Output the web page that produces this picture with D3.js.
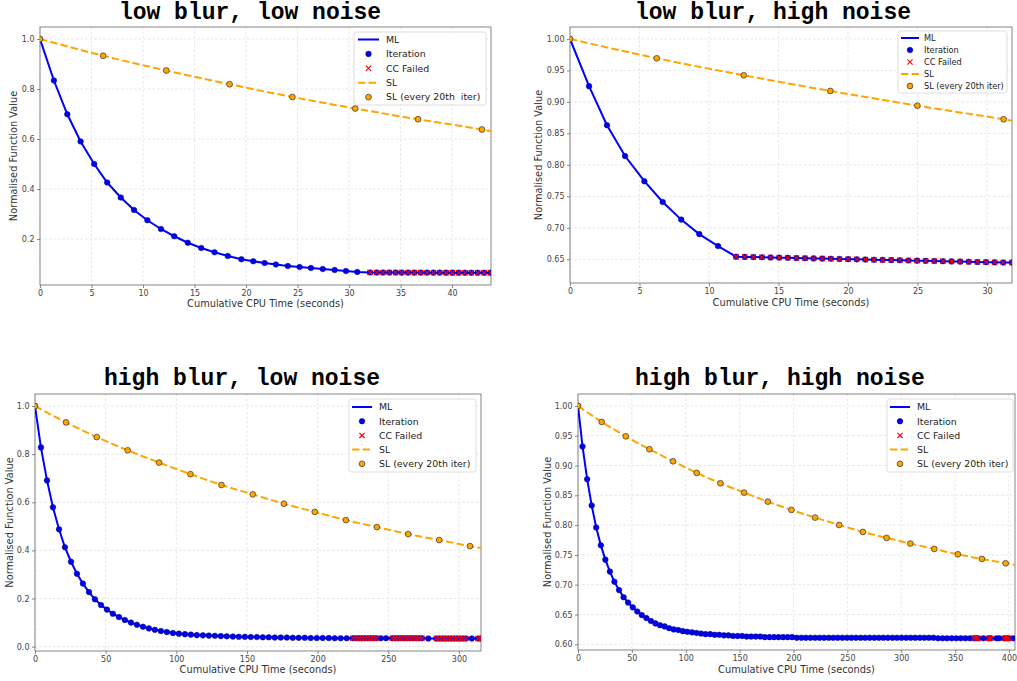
<!DOCTYPE html>
<html><head><meta charset="utf-8">
<script src="https://cdn.jsdelivr.net/npm/d3@7"></script>
<style>body{margin:0;background:#fff}svg{display:block}text{white-space:pre}</style>
</head><body>
<svg id="chart" width="1017" height="681"></svg>
<script>
// ---------- DATA ----------
const titles = ["low blur, low noise", "low blur, high noise", "high blur, low noise", "high blur, high noise"];
const legendLabels1 = ["ML", "Iteration", "CC Failed", "SL", "SL (every 20th  iter)"];
const legendLabels = ["ML", "Iteration", "CC Failed", "SL", "SL (every 20th iter)"];
const xAxisLabel = "Cumulative CPU Time (seconds)";
const yAxisLabel = "Normalised Function Value";

// Panel 1: low blur, low noise
const p1Time = [0, 1.35, 2.65, 3.94, 5.26, 6.52, 7.84, 9.13, 10.42, 11.74, 13.03, 14.35, 15.65, 16.94, 18.23, 19.55, 20.7, 21.8, 22.9, 24.06, 25.2, 26.3, 27.45, 28.6, 29.7, 30.8];
const p1Value = [1.0, 0.834, 0.699, 0.590, 0.500, 0.426, 0.366, 0.316, 0.275, 0.240, 0.211, 0.185, 0.164, 0.147, 0.132, 0.119, 0.111, 0.104, 0.098, 0.092, 0.088, 0.084, 0.080, 0.076, 0.072, 0.068];
const p1FailTime = [32.04, 32.69, 33.30, 33.91, 34.53, 35.11, 35.73, 36.34, 36.96, 37.57, 38.19, 38.80, 39.42, 40.03, 40.65, 41.26, 41.87, 42.49, 43.11, 43.72];
const p1FailValue = [0.0660, 0.0659, 0.0659, 0.0658, 0.0658, 0.0657, 0.0657, 0.0656, 0.0656, 0.0655, 0.0655, 0.0655, 0.0654, 0.0654, 0.0653, 0.0653, 0.0653, 0.0652, 0.0652, 0.0652];
const p1SLTime = [0, 6.13, 12.26, 18.4, 24.5, 30.6, 36.7, 42.9];
const p1SLValue = [1.0, 0.933, 0.874, 0.819, 0.768, 0.722, 0.679, 0.638];
const p1SLEnd = [44.5, 0.626];
const p1XTicks = [0, 5, 10, 15, 20, 25, 30, 35, 40];
const p1YTicks = [0.2, 0.4, 0.6, 0.8, 1.0];

// Panel 2: low blur, high noise
const p2Time = [0, 1.37, 2.66, 3.96, 5.35, 6.67, 8.0, 9.3, 10.65];
const p2Value = [1.0, 0.925, 0.863, 0.814, 0.774, 0.741, 0.713, 0.690, 0.671];
const p2FailTime = [11.95, 12.57, 13.19, 13.81, 14.43, 15.05, 15.67, 16.29, 16.91, 17.53, 18.15, 18.77, 19.39, 20.01, 20.63, 21.25, 21.87, 22.49, 23.11, 23.73, 24.35, 24.97, 25.59, 26.21, 26.83, 27.45, 28.07, 28.69, 29.31, 29.93, 30.55, 31.17, 31.79];
const p2FailValue = [0.6541, 0.6538, 0.6535, 0.6532, 0.6529, 0.6526, 0.6523, 0.6520, 0.6517, 0.6514, 0.6511, 0.6508, 0.6505, 0.6502, 0.6499, 0.6496, 0.6493, 0.6490, 0.6487, 0.6484, 0.6481, 0.6478, 0.6475, 0.6472, 0.6469, 0.6466, 0.6463, 0.6460, 0.6457, 0.6454, 0.6451, 0.6449, 0.6447];
const p2SLTime = [0, 6.24, 12.5, 18.73, 24.99, 31.2];
const p2SLValue = [1.0, 0.9693, 0.9423, 0.9174, 0.894, 0.8724];
const p2SLEnd = [32.5, 0.8677];
const p2XTicks = [0, 5, 10, 15, 20, 25, 30];
const p2YTicks = [0.65, 0.70, 0.75, 0.80, 0.85, 0.90, 0.95, 1.00];

// Panel 3: high blur, low noise
const p3Time = [0, 4.2, 8.5, 12.7, 17.0, 21.2, 25.5, 29.7, 33.9, 38.2,
  42.4, 46.7, 50.9, 55.1, 59.4, 63.6, 67.9, 72.1, 76.4, 80.6,
  84.8, 89.1, 93.3, 97.6, 101.8, 106.1, 110.3, 114.5, 118.8, 123.0,
  127.3, 131.5, 135.7, 140.0, 144.2, 148.5, 152.7, 157.0, 161.2, 165.4,
  169.7, 173.9, 178.2, 182.4, 186.6, 190.9, 195.1, 199.4, 203.6, 207.9,
  212.1, 216.3, 220.6, 244.7, 248.4, 278.3, 309.1];
const p3Value = [1.000, 0.828, 0.691, 0.579, 0.488, 0.413, 0.353, 0.303, 0.262, 0.227,
  0.197, 0.173, 0.154, 0.137, 0.123, 0.111, 0.100, 0.091, 0.083, 0.076,
  0.070, 0.065, 0.061, 0.057, 0.054, 0.052, 0.050, 0.048, 0.047, 0.046,
  0.045, 0.044, 0.043, 0.042, 0.041, 0.041, 0.040, 0.040, 0.039, 0.039,
  0.038, 0.038, 0.038, 0.037, 0.037, 0.037, 0.036, 0.036, 0.036, 0.036,
  0.035, 0.035, 0.035, 0.035, 0.035, 0.034, 0.034];
const p3FailTime = [225.0, 227.1, 229.2, 231.3, 233.4, 235.5, 237.6, 239.6, 241.6,
  252.8, 254.9, 257.0, 259.1, 261.2, 263.3, 265.4, 267.5, 269.6, 271.7, 273.8,
  284.0, 286.1, 288.2, 290.3, 292.4, 294.5, 296.6, 298.7, 300.8, 302.9, 304.9,
  313.5, 315.6];
const p3FailValue = [0.035, 0.035, 0.035, 0.035, 0.035, 0.035, 0.035, 0.035, 0.035,
  0.035, 0.035, 0.035, 0.035, 0.035, 0.035, 0.035, 0.035, 0.035, 0.035, 0.035,
  0.034, 0.034, 0.034, 0.034, 0.034, 0.034, 0.034, 0.034, 0.034, 0.034, 0.034,
  0.034, 0.034];
const p3SLTime = [0, 21.95, 43.7, 65.6, 87.8, 110.0, 131.9, 154.1, 176.1, 198.0, 220.0, 241.9, 264.1, 286.0, 307.8];
const p3SLValue = [1.0, 0.932, 0.871, 0.816, 0.765, 0.717, 0.672, 0.633, 0.594, 0.560, 0.526, 0.497, 0.468, 0.443, 0.418];
const p3SLEnd = [320, 0.405];
const p3XTicks = [0, 50, 100, 150, 200, 250, 300];
const p3YTicks = [0.0, 0.2, 0.4, 0.6, 0.8, 1.0];

// Panel 4: high blur, high noise
const p4Time = [0, 4.2, 8.5, 12.7, 16.9, 21.2, 25.4, 29.6, 33.8, 38.1,
  42.3, 46.5, 50.8, 55.0, 59.2, 63.5, 67.7, 71.9, 76.1, 80.4,
  84.6, 88.8, 93.1, 97.3, 101.5, 105.8, 110.0, 114.2, 118.4, 122.7,
  126.9, 131.1, 135.4, 139.6, 143.8, 148.1, 152.3, 156.5, 160.7, 165.0,
  169.2, 173.4, 177.7, 181.9, 186.1, 190.4, 194.6, 198.8, 203.0, 207.3,
  211.5, 215.7, 220.0, 224.2, 228.4, 232.7, 236.9, 241.1, 245.3, 249.6,
  253.8, 258.0, 262.3, 266.5, 270.7, 275.0, 279.2, 283.4, 287.6, 291.9,
  296.1, 300.3, 304.6, 308.8, 313.0, 317.3, 321.5, 325.7, 329.9, 334.2,
  338.4, 342.6, 346.9, 351.1, 355.3, 359.6, 363.8, 376.3, 388.4, 391.0,
  404.0];
const p4Value = [1.000, 0.932, 0.877, 0.833, 0.796, 0.766, 0.742, 0.722, 0.705, 0.691,
  0.679, 0.670, 0.662, 0.655, 0.649, 0.644, 0.639, 0.635, 0.632, 0.630,
  0.627, 0.625, 0.624, 0.622, 0.621, 0.620, 0.619, 0.618, 0.617, 0.617,
  0.616, 0.616, 0.615, 0.615, 0.614, 0.614, 0.614, 0.613, 0.613, 0.613,
  0.613, 0.612, 0.612, 0.612, 0.612, 0.612, 0.612, 0.612, 0.611, 0.611,
  0.611, 0.611, 0.611, 0.611, 0.611, 0.611, 0.611, 0.611, 0.611, 0.611,
  0.611, 0.611, 0.611, 0.611, 0.611, 0.611, 0.611, 0.611, 0.611, 0.611,
  0.611, 0.611, 0.611, 0.611, 0.611, 0.611, 0.611, 0.611, 0.611, 0.610,
  0.610, 0.610, 0.610, 0.610, 0.610, 0.610, 0.610, 0.610, 0.610, 0.610,
  0.610];
const p4FailTime = [367.2, 369.3, 371.4, 381.0, 383.1, 395.5, 397.6, 399.7];
const p4FailValue = [0.610, 0.610, 0.610, 0.610, 0.610, 0.610, 0.610, 0.610];
const p4SLTime = [0, 22.0, 44.3, 66.3, 88.2, 110.2, 132.2, 154.2, 176.2, 198.1, 220.1, 242.4, 264.4, 286.4, 308.4, 330.7, 352.6, 374.9, 396.9];
const p4SLValue = [1.0, 0.9731, 0.949, 0.9273, 0.9071, 0.8876, 0.8702, 0.8545, 0.8394, 0.8255, 0.8126, 0.8003, 0.7885, 0.7785, 0.7690, 0.7600, 0.7510, 0.7432, 0.7359];
const p4SLEnd = [412, 0.731];
const p4XTicks = [0, 50, 100, 150, 200, 250, 300, 350, 400];
const p4YTicks = [0.60, 0.65, 0.70, 0.75, 0.80, 0.85, 0.90, 0.95, 1.00];

// ---------- LAYOUT ----------
const panels = [
  {title: titles[0], time: p1Time, value: p1Value, failTime: p1FailTime, failValue: p1FailValue,
   slTime: p1SLTime, slValue: p1SLValue, slEnd: p1SLEnd, xTicks: p1XTicks, yTicks: p1YTicks, yFmt: ".1f", legend: legendLabels1,
   L: {left: 40, right: 491, top: 27, bottom: 285, xMax: 43.78, yMin: 0.016, yMax: 1.048,
       titleX: 250, titleY: 19, xLabY: 307, yLabX: 16.5, lx: 354, ly: 32, lw: 132, lh: 73, row0: 39.5, rowH: 14.4, hx0: 358, hx1: 379, tx: 386, lfs: 9.4}},
  {title: titles[1], time: p2Time, value: p2Value, failTime: p2FailTime, failValue: p2FailValue,
   slTime: p2SLTime, slValue: p2SLValue, slEnd: p2SLEnd, xTicks: p2XTicks, yTicks: p2YTicks, yFmt: ".2f", legend: legendLabels,
   L: {left: 570, right: 1012, top: 27, bottom: 283, xMax: 31.8, yMin: 0.6123, yMax: 1.019,
       titleX: 773, titleY: 19, xLabY: 305.5, yLabX: 542, lx: 898, ly: 31, lw: 109, lh: 62, row0: 38, rowH: 12, hx0: 901, hx1: 919, tx: 924, lfs: 8.2}},
  {title: titles[2], time: p3Time, value: p3Value, failTime: p3FailTime, failValue: p3FailValue,
   slTime: p3SLTime, slValue: p3SLValue, slEnd: p3SLEnd, xTicks: p3XTicks, yTicks: p3YTicks, yFmt: ".1f", legend: legendLabels,
   L: {left: 35, right: 481, top: 394, bottom: 651, xMax: 315.6, yMin: -0.018, yMax: 1.05,
       titleX: 242, titleY: 385, xLabY: 672.5, yLabX: 12.5, lx: 349, ly: 399, lw: 127, lh: 73, row0: 407, rowH: 14.2, hx0: 352, hx1: 372, tx: 379, lfs: 9.4}},
  {title: titles[3], time: p4Time, value: p4Value, failTime: p4FailTime, failValue: p4FailValue,
   slTime: p4SLTime, slValue: p4SLValue, slEnd: p4SLEnd, xTicks: p4XTicks, yTicks: p4YTicks, yFmt: ".2f", legend: legendLabels,
   L: {left: 578, right: 1015, top: 394, bottom: 650, xMax: 405.6, yMin: 0.5904, yMax: 1.020,
       titleX: 780, titleY: 385, xLabY: 672.5, yLabX: 551, lx: 887, ly: 399, lw: 126, lh: 73, row0: 407, rowH: 14.2, hx0: 890, hx1: 910, tx: 917, lfs: 9.4}}
];

const svg = d3.select("#chart");
const FONT = "DejaVu Sans, sans-serif";
const BLUE = "#0000ff", ORANGE = "#ffa500", RED = "#ff0000";
const xPath = s => `M${-s},${-s}L${s},${s}M${-s},${s}L${s},${-s}`;

panels.forEach((p, idx) => {
  const L = p.L;
  const x = d3.scaleLinear().domain([0, L.xMax]).range([L.left, L.right]);
  const y = d3.scaleLinear().domain([L.yMin, L.yMax]).range([L.bottom, L.top]);
  const g = svg.append("g");
  const clipId = "clip" + idx;
  svg.append("clipPath").attr("id", clipId).append("rect")
    .attr("x", L.left).attr("y", L.top).attr("width", L.right - L.left).attr("height", L.bottom - L.top);

  // title
  g.append("text").attr("x", L.titleX).attr("y", L.titleY).attr("text-anchor", "middle")
    .attr("font-family", "Liberation Mono, Courier New, monospace").attr("font-weight", "bold")
    .attr("font-size", 23).attr("fill", "#000").text(p.title);

  // grid
  const grid = g.append("g").attr("stroke", "#dcdcdc").attr("stroke-width", 0.7).attr("stroke-dasharray", "2.5,2");
  grid.selectAll(".gx").data(p.xTicks).join("line")
    .attr("x1", d => x(d)).attr("x2", d => x(d)).attr("y1", L.top).attr("y2", L.bottom);
  grid.selectAll(".gy").data(p.yTicks).join("line")
    .attr("x1", L.left).attr("x2", L.right).attr("y1", d => y(d)).attr("y2", d => y(d));

  // axes
  const xa = g.append("g").attr("transform", `translate(0,${L.bottom})`)
    .call(d3.axisBottom(x).tickValues(p.xTicks).tickFormat(d3.format("d")).tickSize(3).tickPadding(2));
  const ya = g.append("g").attr("transform", `translate(${L.left},0)`)
    .call(d3.axisLeft(y).tickValues(p.yTicks).tickFormat(d3.format(p.yFmt)).tickSize(3).tickPadding(2.5));
  [xa, ya].forEach(a => {
    a.select(".domain").remove();
    a.selectAll("line").attr("stroke", "#555").attr("stroke-width", 0.7);
    a.selectAll("text").attr("font-family", FONT).attr("font-size", 8).attr("fill", "#444");
  });

  // frame
  g.append("rect").attr("x", L.left).attr("y", L.top).attr("width", L.right - L.left).attr("height", L.bottom - L.top)
    .attr("fill", "none").attr("stroke", "#666").attr("stroke-width", 0.8);

  // axis labels
  g.append("text").attr("x", (L.left + L.right) / 2).attr("y", L.xLabY).attr("text-anchor", "middle")
    .attr("font-family", FONT).attr("font-size", 9.8).attr("fill", "#333").text(xAxisLabel);
  g.append("text").attr("transform", `translate(${L.yLabX},${(L.top + L.bottom) / 2}) rotate(-90)`)
    .attr("text-anchor", "middle").attr("font-family", FONT).attr("font-size", 9.8).attr("fill", "#333").text(yAxisLabel);

  const plot = g.append("g").attr("clip-path", `url(#${clipId})`);

  // ML line through all iterations
  const iters = p.time.map((t, i) => ({t, v: p.value[i]}));
  const fails = p.failTime.map((t, i) => ({t, v: p.failValue[i]}));
  const all = iters.concat(fails).sort((a, b) => a.t - b.t);
  const line = d3.line().x(d => x(d.t)).y(d => y(d.v));
  plot.append("path").datum(all).attr("d", line).attr("fill", "none").attr("stroke", BLUE).attr("stroke-width", 2);

  // iteration dots
  plot.selectAll(".it").data(all).join("circle")
    .attr("cx", d => x(d.t)).attr("cy", d => y(d.v)).attr("r", 2.8)
    .attr("fill", "#0000ee").attr("stroke", "#000080").attr("stroke-width", 0.5);

  // CC failed
  plot.selectAll(".cc").data(fails).join("path")
    .attr("transform", d => `translate(${x(d.t)},${y(d.v)})`).attr("d", xPath(2.6))
    .attr("stroke", RED).attr("stroke-width", 1.1).attr("fill", "none");

  // SL line
  const sl = p.slTime.map((t, i) => ({t, v: p.slValue[i]}));
  const slLine = sl.concat([{t: p.slEnd[0], v: p.slEnd[1]}]);
  plot.append("path").datum(slLine).attr("d", d3.line().curve(d3.curveMonotoneX).x(d => x(d.t)).y(d => y(d.v)))
    .attr("fill", "none").attr("stroke", ORANGE).attr("stroke-width", 2).attr("stroke-dasharray", "7.4,3.2");
  plot.selectAll(".sl").data(sl).join("circle")
    .attr("cx", d => x(d.t)).attr("cy", d => y(d.v)).attr("r", 2.9)
    .attr("fill", ORANGE).attr("stroke", "#333").attr("stroke-width", 0.7);

  // legend
  const lg = g.append("g");
  lg.append("rect").attr("x", L.lx).attr("y", L.ly).attr("width", L.lw).attr("height", L.lh).attr("rx", 2.5)
    .attr("fill", "#fff").attr("fill-opacity", 0.85).attr("stroke", "#d6d6d6").attr("stroke-width", 0.8);
  const hm = (L.hx0 + L.hx1) / 2;
  const ry = i => L.row0 + i * L.rowH;
  lg.append("line").attr("x1", L.hx0).attr("x2", L.hx1).attr("y1", ry(0)).attr("y2", ry(0)).attr("stroke", BLUE).attr("stroke-width", 2);
  lg.append("circle").attr("cx", hm).attr("cy", ry(1)).attr("r", 2.8).attr("fill", "#0000ee").attr("stroke", "#000080").attr("stroke-width", 0.5);
  lg.append("path").attr("transform", `translate(${hm},${ry(2)})`).attr("d", xPath(2.6)).attr("stroke", RED).attr("stroke-width", 1.1);
  lg.append("line").attr("x1", L.hx0).attr("x2", L.hx1).attr("y1", ry(3)).attr("y2", ry(3)).attr("stroke", ORANGE).attr("stroke-width", 2).attr("stroke-dasharray", "7.4,3.2");
  lg.append("circle").attr("cx", hm).attr("cy", ry(4)).attr("r", 2.9).attr("fill", ORANGE).attr("stroke", "#333").attr("stroke-width", 0.7);
  p.legend.forEach((txt, i) => {
    lg.append("text").attr("x", L.tx).attr("y", ry(i)).attr("dy", "0.36em")
      .attr("font-family", FONT).attr("font-size", L.lfs).attr("fill", "#222").text(txt);
  });
});
</script>
</body></html>
